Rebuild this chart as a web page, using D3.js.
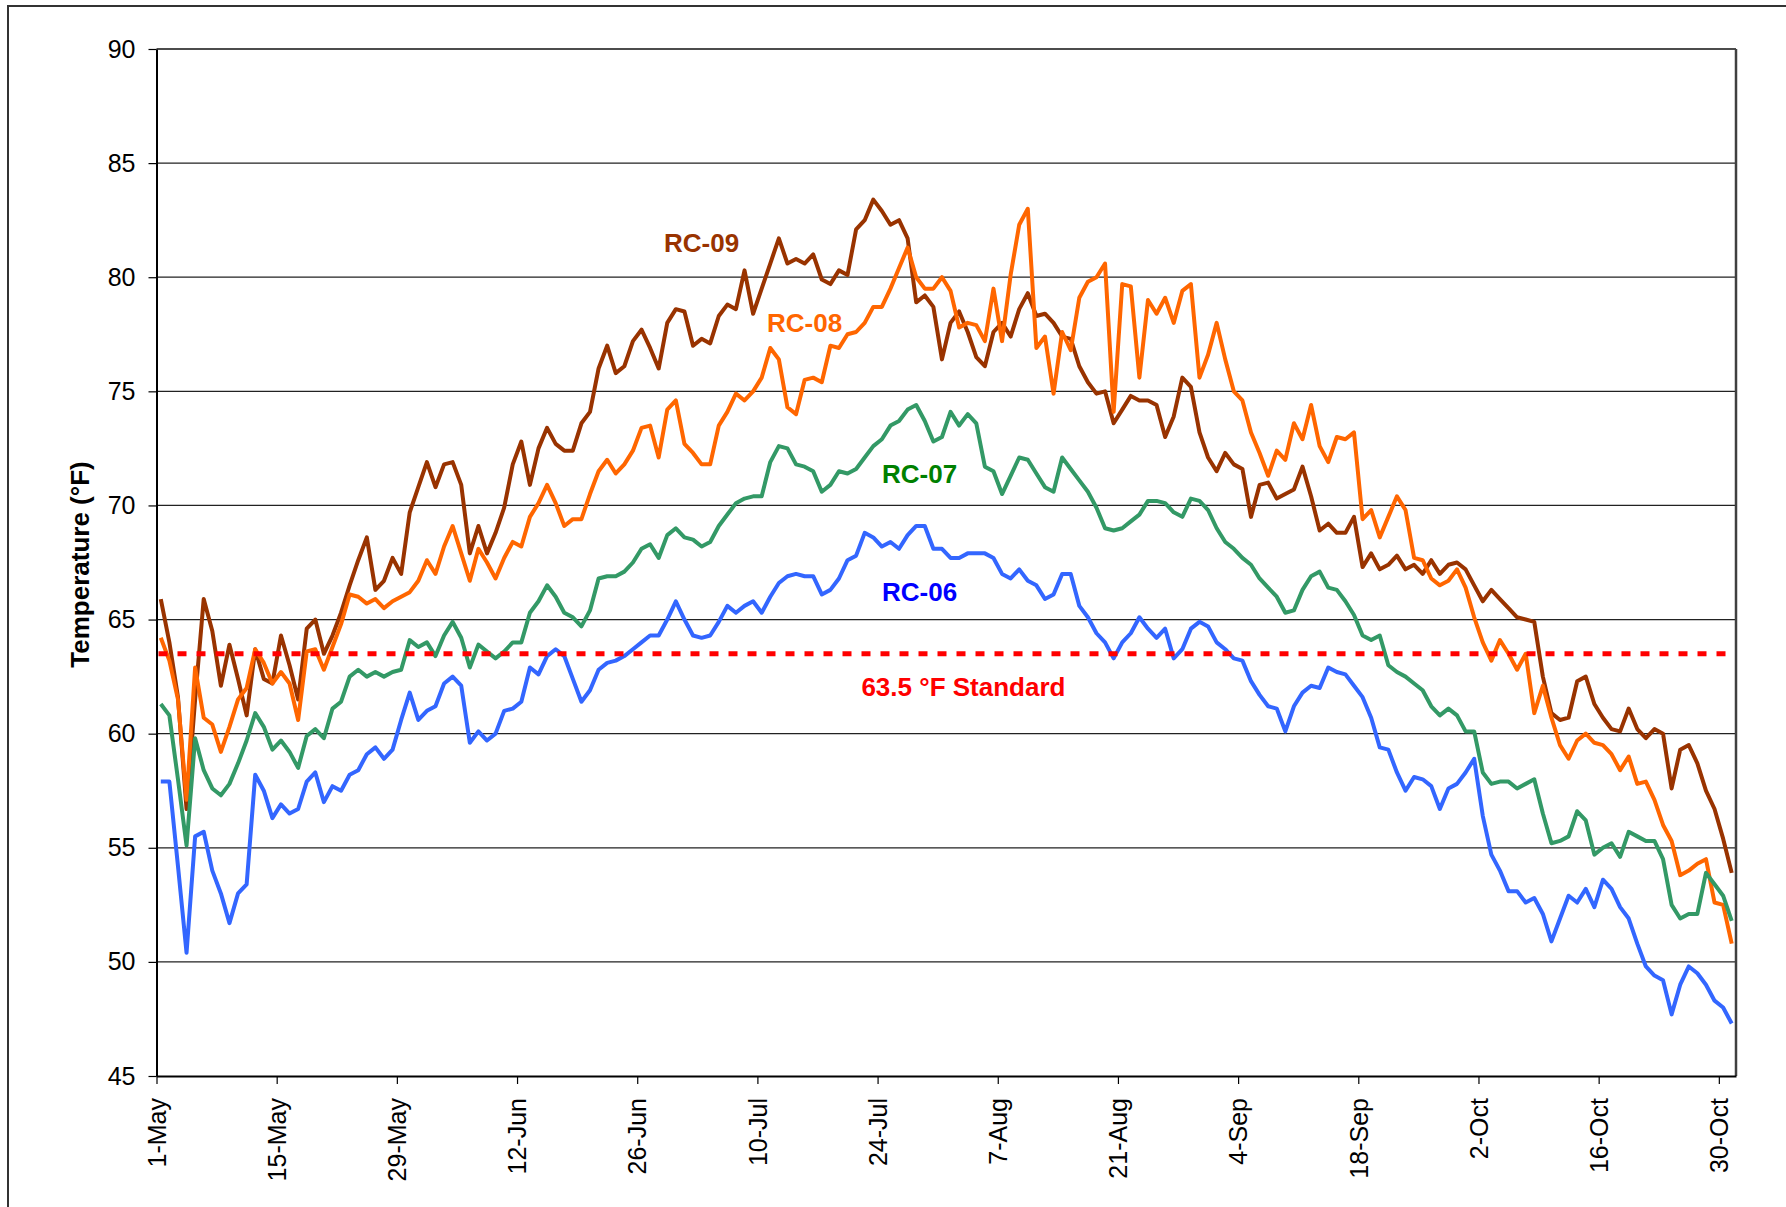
<!DOCTYPE html>
<html lang="en">
<head>
<meta charset="utf-8">
<title>Daily temperature RC-06 to RC-09</title>
<script src="https://cdn.jsdelivr.net/npm/d3@7"></script>
<style>
  body { margin: 0; background: #fff; }
  text { font-family: "Liberation Sans", Arial, sans-serif; }
  .tick text { font-size: 25px; fill: #000; }
  .lbl { font-size: 26px; font-weight: bold; }
</style>
</head>
<body>
<script>
// daily values, 1-May .. 31-Oct (184 days)
var startDay = "2010-05-01";
var endDay = "2010-11-01";

var rc09 = [65.9,64.0,61.6,56.7,61.5,65.9,64.5,62.1,63.9,62.4,60.8,63.7,62.4,62.2,64.3,63.0,61.5,64.6,65.0,63.5,
  64.3,65.3,66.5,67.6,68.6,66.3,66.7,67.7,67.0,69.7,70.8,71.9,70.8,71.8,71.9,70.9,67.9,69.1,67.9,68.8,
  69.9,71.8,72.8,70.9,72.5,73.4,72.7,72.4,72.4,73.6,74.1,76.0,77.0,75.8,76.1,77.2,77.7,76.9,76.0,78.0,
  78.6,78.5,77.0,77.3,77.1,78.3,78.8,78.6,80.3,78.4,79.5,80.6,81.7,80.6,80.8,80.6,81.0,79.9,79.7,80.3,
  80.1,82.1,82.5,83.4,82.9,82.3,82.5,81.7,78.9,79.2,78.7,76.4,78.0,78.5,77.6,76.5,76.1,77.6,78.0,77.4,
  78.6,79.3,78.3,78.4,78.0,77.4,77.3,76.1,75.4,74.9,75.0,73.6,74.2,74.8,74.6,74.6,74.4,73.0,73.9,75.6,
  75.2,73.2,72.1,71.5,72.3,71.8,71.6,69.5,70.9,71.0,70.3,70.5,70.7,71.7,70.4,68.9,69.2,68.8,68.8,69.5,
  67.3,67.9,67.2,67.4,67.8,67.2,67.4,67.0,67.6,67.0,67.4,67.5,67.2,66.5,65.8,66.3,65.9,65.5,65.1,65.0,
  64.9,62.5,60.9,60.6,60.7,62.3,62.5,61.3,60.7,60.2,60.1,61.1,60.2,59.8,60.2,60.0,57.6,59.3,59.5,58.7,
  57.5,56.7,55.4,53.9];

var rc08 = [64.2,63.2,61.5,57.1,62.9,60.7,60.4,59.2,60.3,61.5,62.0,63.7,63.1,62.2,62.7,62.2,60.6,63.6,63.7,62.8,
  63.8,64.8,66.1,66.0,65.7,65.9,65.5,65.8,66.0,66.2,66.7,67.6,67.0,68.2,69.1,67.9,66.7,68.1,67.5,66.8,
  67.7,68.4,68.2,69.5,70.1,70.9,70.1,69.1,69.4,69.4,70.5,71.5,72.0,71.4,71.8,72.4,73.4,73.5,72.1,74.2,
  74.6,72.7,72.3,71.8,71.8,73.5,74.1,74.9,74.6,75.0,75.6,76.9,76.4,74.3,74.0,75.5,75.6,75.4,77.0,76.9,
  77.5,77.6,78.0,78.7,78.7,79.5,80.4,81.3,80.0,79.5,79.5,80.0,79.4,77.8,78.0,77.9,77.2,79.5,77.2,80.1,
  82.3,83.0,76.9,77.4,74.9,77.6,76.8,79.1,79.8,80.0,80.6,74.1,79.7,79.6,75.6,79.0,78.4,79.1,78.0,79.4,
  79.7,75.6,76.6,78.0,76.4,75.0,74.6,73.2,72.3,71.3,72.4,72.0,73.6,72.9,74.4,72.6,71.9,73.0,72.9,73.2,
  69.4,69.8,68.6,69.5,70.4,69.8,67.7,67.6,66.8,66.5,66.7,67.2,66.4,65.1,64.0,63.2,64.1,63.5,62.8,63.5,
  60.9,62.1,60.7,59.5,58.9,59.7,60.0,59.6,59.5,59.1,58.4,59.0,57.8,57.9,57.1,56.0,55.3,53.8,54.0,54.3,
  54.5,52.6,52.5,50.8];

var rc07 = [61.3,60.8,58.0,55.1,59.8,58.4,57.6,57.3,57.8,58.7,59.7,60.9,60.3,59.3,59.7,59.2,58.5,59.9,60.2,59.8,
  61.1,61.4,62.5,62.8,62.5,62.7,62.5,62.7,62.8,64.1,63.8,64.0,63.4,64.3,64.9,64.2,62.9,63.9,63.6,63.3,
  63.6,64.0,64.0,65.3,65.8,66.5,66.0,65.3,65.1,64.7,65.4,66.8,66.9,66.9,67.1,67.5,68.1,68.3,67.7,68.7,
  69.0,68.6,68.5,68.2,68.4,69.1,69.6,70.1,70.3,70.4,70.4,71.9,72.6,72.5,71.8,71.7,71.5,70.6,70.9,71.5,
  71.4,71.6,72.1,72.6,72.9,73.5,73.7,74.2,74.4,73.7,72.8,73.0,74.1,73.5,74.0,73.6,71.7,71.5,70.5,71.3,
  72.1,72.0,71.4,70.8,70.6,72.1,71.6,71.1,70.6,69.9,69.0,68.9,69.0,69.3,69.6,70.2,70.2,70.1,69.7,69.5,
  70.3,70.2,69.8,69.0,68.4,68.1,67.7,67.4,66.8,66.4,66.0,65.3,65.4,66.3,66.9,67.1,66.4,66.3,65.8,65.2,
  64.3,64.1,64.3,63.0,62.7,62.5,62.2,61.9,61.2,60.8,61.1,60.8,60.1,60.1,58.3,57.8,57.9,57.9,57.6,57.8,
  58.0,56.5,55.2,55.3,55.5,56.6,56.2,54.7,55.0,55.2,54.6,55.7,55.5,55.3,55.3,54.5,52.5,51.9,52.1,52.1,
  53.9,53.4,52.9,51.8];

var rc06 = [57.9,57.9,54.2,50.4,55.5,55.7,54.0,53.0,51.7,53.0,53.4,58.2,57.5,56.3,56.9,56.5,56.7,57.9,58.3,57.0,
  57.7,57.5,58.2,58.4,59.1,59.4,58.9,59.3,60.6,61.8,60.6,61.0,61.2,62.2,62.5,62.1,59.6,60.1,59.7,60.0,
  61.0,61.1,61.4,62.9,62.6,63.4,63.7,63.4,62.4,61.4,61.9,62.8,63.1,63.2,63.4,63.7,64.0,64.3,64.3,65.0,
  65.8,65.0,64.3,64.2,64.3,64.9,65.6,65.3,65.6,65.8,65.3,66.0,66.6,66.9,67.0,66.9,66.9,66.1,66.3,66.8,
  67.6,67.8,68.8,68.6,68.2,68.4,68.1,68.7,69.1,69.1,68.1,68.1,67.7,67.7,67.9,67.9,67.9,67.7,67.0,66.8,
  67.2,66.7,66.5,65.9,66.1,67.0,67.0,65.6,65.1,64.4,64.0,63.3,64.0,64.4,65.1,64.6,64.2,64.6,63.3,63.7,
  64.6,64.9,64.7,64.0,63.7,63.3,63.2,62.3,61.7,61.2,61.1,60.1,61.2,61.8,62.1,62.0,62.9,62.7,62.6,62.1,
  61.6,60.7,59.4,59.3,58.3,57.5,58.1,58.0,57.7,56.7,57.6,57.8,58.3,58.9,56.4,54.7,54.0,53.1,53.1,52.6,
  52.8,52.1,50.9,51.9,52.9,52.6,53.2,52.4,53.6,53.2,52.4,51.9,50.8,49.8,49.4,49.2,47.7,49.0,49.8,49.5,
  49.0,48.3,48.0,47.3];

var standard = 63.5;

var yTicks = [45, 50, 55, 60, 65, 70, 75, 80, 85, 90];
var xTickDays = ["2010-05-01","2010-05-15","2010-05-29","2010-06-12","2010-06-26","2010-07-10","2010-07-24",
  "2010-08-07","2010-08-21","2010-09-04","2010-09-18","2010-10-02","2010-10-16","2010-10-30"];

var seriesNames = ["RC-09", "RC-08", "RC-07", "RC-06"];
var lineColors = ["#993300", "#FF6600", "#339966", "#3366FF"];
var textColors = ["#993300", "#FF6600", "#008000", "#0000FF"];
// label anchor: day offset from 1-May and temperature
var labelDay = [63.5, 75.5, 88.9, 88.9];
var labelTemp = [81.5, 78.0, 71.4, 66.2];

var w = 1786, h = 1207;
var plotLeft = 156.5, plotRight = 1736, plotTop = 49, plotBottom = 1076;

var parse = d3.utcParse("%Y-%m-%d");
var t0 = parse(startDay);

var x = d3.scaleUtc().domain([t0, parse(endDay)]).range([plotLeft, plotRight]);
var y = d3.scaleLinear().domain([45, 90]).range([plotBottom, plotTop]);

// each day plotted in the middle of its slot
function dayAt(i) { return new Date(t0.getTime() + (i + 0.5) * 864e5); }

var svg = d3.select("body").append("svg")
  .attr("width", w).attr("height", h);

// outer chart frame (only top/left visible)
svg.append("rect")
  .attr("x", 8).attr("y", 6).attr("width", 1850).attr("height", 1300)
  .attr("fill", "none").attr("stroke", "#333").attr("stroke-width", 2);

// gridlines
svg.append("g").selectAll("line")
  .data(yTicks.filter(function(d) { return d > 45 && d < 90; }))
  .enter().append("line")
  .attr("x1", plotLeft).attr("x2", plotRight)
  .attr("y1", function(d) { return y(d); })
  .attr("y2", function(d) { return y(d); })
  .attr("stroke", "#222").attr("stroke-width", 1.2);

// plot border
svg.append("line").attr("x1", plotLeft).attr("x2", plotRight).attr("y1", plotTop).attr("y2", plotTop)
  .attr("stroke", "#111").attr("stroke-width", 1.5);
svg.append("line").attr("x1", plotRight).attr("x2", plotRight).attr("y1", plotTop).attr("y2", plotBottom)
  .attr("stroke", "#404040").attr("stroke-width", 2.5);

// axes
var yAxis = d3.axisLeft(y).tickValues(yTicks).tickSize(8).tickSizeOuter(0).tickPadding(13);
var gy = svg.append("g").attr("class", "axis").attr("transform", "translate(" + plotLeft + ",0)").call(yAxis);
gy.select(".domain").attr("stroke", "#000").attr("stroke-width", 2);
gy.selectAll(".tick line").attr("stroke", "#000").attr("stroke-width", 1.2);

var xAxis = d3.axisBottom(x)
  .tickValues(xTickDays.map(parse))
  .tickSize(8).tickSizeOuter(0)
  .tickFormat(d3.utcFormat("%-d-%b"));
var gx = svg.append("g").attr("class", "axis").attr("transform", "translate(0," + plotBottom + ")").call(xAxis);
gx.select(".domain").attr("stroke", "#000").attr("stroke-width", 2);
gx.selectAll(".tick line").attr("stroke", "#000").attr("stroke-width", 1.2);
gx.selectAll(".tick text")
  .attr("transform", "rotate(-90)")
  .attr("text-anchor", "end")
  .attr("x", -22).attr("y", 0).attr("dy", "0.35em");

// y title
svg.append("text")
  .attr("transform", "translate(80," + ((plotTop + plotBottom) / 2 + 2) + ") rotate(-90)")
  .attr("text-anchor", "middle")
  .attr("dy", "0.35em")
  .style("font-size", "26px").style("font-weight", "bold")
  .text("Temperature (°F)");

// series
var allSeries = [rc09, rc08, rc07, rc06];
var line = d3.line()
  .x(function(d, i) { return x(dayAt(i)); })
  .y(function(d) { return y(d); });

svg.append("g").selectAll("path")
  .data(allSeries)
  .enter().append("path")
  .attr("d", line)
  .attr("fill", "none")
  .attr("stroke", function(d, i) { return lineColors[i]; })
  .attr("stroke-width", 4)
  .attr("stroke-linejoin", "round");

// 63.5 standard
svg.append("line")
  .attr("x1", plotLeft + 2).attr("x2", plotRight - 2)
  .attr("y1", y(standard)).attr("y2", y(standard))
  .attr("stroke", "#FF0000").attr("stroke-width", 5)
  .attr("stroke-dasharray", "9,10");

// series labels
svg.append("g").selectAll("text")
  .data(seriesNames)
  .enter().append("text")
  .attr("class", "lbl")
  .attr("x", function(d, i) { return x(new Date(t0.getTime() + labelDay[i] * 864e5)); })
  .attr("y", function(d, i) { return y(labelTemp[i]); })
  .attr("dy", "0.35em")
  .attr("text-anchor", "middle")
  .attr("fill", function(d, i) { return textColors[i]; })
  .text(function(d) { return d; });

svg.append("text")
  .attr("class", "lbl")
  .attr("x", x(new Date(t0.getTime() + 94.0 * 864e5)))
  .attr("y", y(62.05))
  .attr("dy", "0.35em")
  .attr("text-anchor", "middle")
  .attr("fill", "#FF0000")
  .text(standard + " °F Standard");
</script>
</body>
</html>
